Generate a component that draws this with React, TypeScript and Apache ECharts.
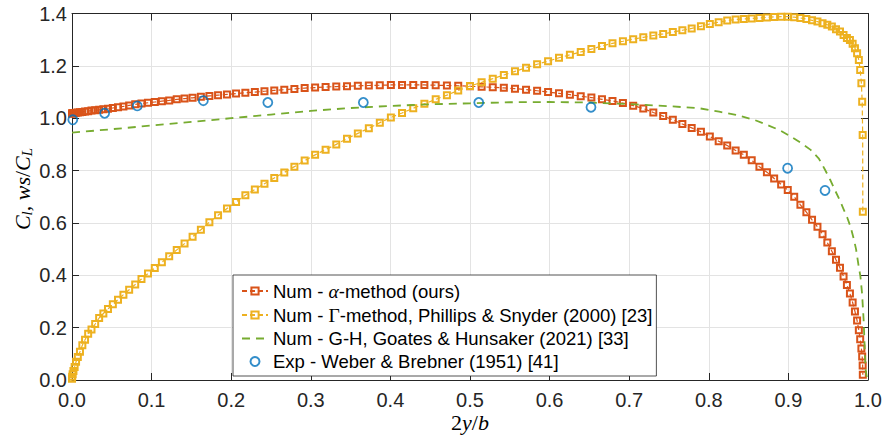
import React, { useEffect, useRef } from 'react';
import * as echarts from 'echarts';

// Spanwise stations (2y/b) shared by both numerical lifting-line results
const X_STATIONS = [
  0, 0.0002, 0.0008, 0.0018, 0.0033, 0.0051, 0.0073, 0.0100, 0.0130, 0.0164,
  0.0203, 0.0245, 0.0291, 0.0341, 0.0394, 0.0452, 0.0513, 0.0578, 0.0646, 0.0718,
  0.0794, 0.0873, 0.0955, 0.1040, 0.1129, 0.1221, 0.1316, 0.1414, 0.1515, 0.1619,
  0.1726, 0.1835, 0.1947, 0.2061, 0.2178, 0.2297, 0.2418, 0.2541, 0.2667, 0.2794,
  0.2923, 0.3054, 0.3186, 0.3320, 0.3455, 0.3591, 0.3729, 0.3867, 0.4006, 0.4146,
  0.4287, 0.4427, 0.4569, 0.4710, 0.4852, 0.5000,
  0.5146, 0.5286, 0.5425, 0.5565, 0.5704, 0.5843, 0.5981, 0.6118, 0.6255, 0.6391,
  0.6525, 0.6658, 0.6790, 0.6921, 0.7050, 0.7177, 0.7303, 0.7427, 0.7548, 0.7668,
  0.7785, 0.7901, 0.8013, 0.8124, 0.8231, 0.8337, 0.8440, 0.8539, 0.8636, 0.8730,
  0.8821, 0.8909, 0.8992, 0.9073, 0.9151, 0.9226, 0.9297, 0.9365, 0.9429, 0.9489,
  0.9546, 0.9598, 0.9648, 0.9693, 0.9735, 0.9773, 0.9807, 0.9836, 0.9863, 0.9885,
  0.9902, 0.9917, 0.9927, 0.9933, 0.9935,
];

// Num - alpha-method (ours)
const ALPHA_CL = [
  1.018, 1.018, 1.019, 1.019, 1.020, 1.021, 1.022, 1.023, 1.024, 1.026,
  1.027, 1.029, 1.030, 1.032, 1.034, 1.036, 1.039, 1.042, 1.045, 1.049,
  1.053, 1.056, 1.059, 1.062, 1.065, 1.068, 1.072, 1.075, 1.078, 1.082,
  1.085, 1.088, 1.091, 1.094, 1.097, 1.100, 1.103, 1.106, 1.109, 1.112,
  1.115, 1.117, 1.119, 1.121, 1.122, 1.124, 1.125, 1.126, 1.127, 1.127,
  1.127, 1.127, 1.126, 1.125, 1.124, 1.122,
  1.120, 1.118, 1.116, 1.113, 1.109, 1.105, 1.100, 1.095, 1.090, 1.084,
  1.079, 1.072, 1.066, 1.058, 1.048, 1.037, 1.022, 1.008, 0.994, 0.978,
  0.963, 0.948, 0.930, 0.912, 0.896, 0.877, 0.860, 0.839, 0.815, 0.794,
  0.770, 0.747, 0.726, 0.700, 0.669, 0.641, 0.612, 0.585, 0.557, 0.525,
  0.492, 0.459, 0.429, 0.395, 0.363, 0.330, 0.296, 0.262, 0.227, 0.190,
  0.156, 0.120, 0.090, 0.055, 0.020,
];

// Num - Gamma-method, Phillips & Snyder (2000)
const GAMMA_CL = [
  0.005, 0.012, 0.022, 0.034, 0.050, 0.070, 0.088, 0.108, 0.133, 0.154,
  0.177, 0.193, 0.214, 0.237, 0.254, 0.271, 0.289, 0.307, 0.326, 0.345,
  0.365, 0.386, 0.407, 0.428, 0.450, 0.473, 0.497, 0.521, 0.547, 0.574,
  0.603, 0.629, 0.655, 0.680, 0.706, 0.728, 0.750, 0.772, 0.793, 0.815,
  0.838, 0.860, 0.880, 0.900, 0.922, 0.942, 0.962, 0.983, 1.003, 1.020,
  1.038, 1.055, 1.072, 1.088, 1.106, 1.123,
  1.137, 1.151, 1.165, 1.179, 1.193, 1.206, 1.218, 1.231, 1.242, 1.253,
  1.264, 1.276, 1.286, 1.294, 1.302, 1.309, 1.316, 1.322, 1.329, 1.336,
  1.343, 1.351, 1.360, 1.367, 1.373, 1.377, 1.379, 1.381, 1.383, 1.385,
  1.387, 1.388, 1.388, 1.386, 1.383, 1.379, 1.374, 1.369, 1.363, 1.357,
  1.350, 1.340, 1.331, 1.318, 1.306, 1.299, 1.284, 1.267, 1.248, 1.222,
  1.184, 1.134, 1.063, 0.936, 0.643,
];

// Num - G-H, Goates & Hunsaker (2021)
const GH_X = [
  0, 0.05, 0.1, 0.15, 0.2, 0.25, 0.3, 0.35, 0.4, 0.45, 0.5, 0.55, 0.6, 0.65, 0.7,
  0.75, 0.788, 0.813, 0.834, 0.857, 0.876, 0.89, 0.903, 0.915, 0.928, 0.938, 0.946,
  0.953, 0.959, 0.964, 0.969, 0.974, 0.978, 0.982, 0.985, 0.988, 0.9905, 0.9925,
  0.9945, 0.9958, 0.997, 0.9985, 1.0,
];
const GH_CL = [
  0.945, 0.958, 0.972, 0.986, 1.0, 1.014, 1.028, 1.039, 1.047, 1.053, 1.057, 1.061,
  1.062, 1.06, 1.054, 1.046, 1.038, 1.025, 1.013, 0.994, 0.971, 0.953, 0.93, 0.907,
  0.879, 0.847, 0.803, 0.762, 0.722, 0.69, 0.655, 0.62, 0.586, 0.54, 0.5, 0.44,
  0.395, 0.332, 0.23, 0.128, 0.04, 0.01, 0.0,
];

// Exp - Weber & Brebner (1951)
const EXP_X = [0.001, 0.041, 0.082, 0.165, 0.246, 0.366, 0.511, 0.652, 0.899, 0.946];
const EXP_CL = [0.994, 1.019, 1.047, 1.067, 1.06, 1.06, 1.06, 1.042, 0.809, 0.724];

const SERIES_NAMES = [
  'Num - α-method (ours)',
  'Num - Γ-method, Phillips & Snyder (2000) [23]',
  'Num - G-H, Goates & Hunsaker (2021) [33]',
  'Exp - Weber & Brebner (1951) [41]',
];

const COLORS = ['#D95319', '#EDB120', '#77AC30', '#0072BD'];

const AXIS_COLOR = '#262626';
const SANS = '"Liberation Sans", Arial, Helvetica, sans-serif';
const SERIF = '"Liberation Serif", "Times New Roman", serif';

export default function App() {
  const ref = useRef<HTMLDivElement>(null);

  useEffect(() => {
    document.body.style.margin = '0';
    if (!ref.current) return;
    const chart = echarts.init(ref.current, undefined, { renderer: 'svg' });

    const tickFmt = (v: number) => v.toFixed(1);

    const mainAxisCommon = {
      type: 'value' as const,
      axisLine: { show: true, onZero: false, lineStyle: { color: AXIS_COLOR, width: 1 } },
      axisTick: { show: true, inside: true, length: 7, lineStyle: { color: AXIS_COLOR, width: 1 } },
      splitLine: { show: true, lineStyle: { color: '#e3e3e3', width: 1 } },
      axisLabel: { formatter: tickFmt, fontSize: 20, color: AXIS_COLOR, fontFamily: SANS },
    };
    const mirrorAxisCommon = {
      type: 'value' as const,
      axisLine: { show: true, onZero: false, lineStyle: { color: AXIS_COLOR, width: 1 } },
      axisTick: { show: true, inside: true, length: 7, lineStyle: { color: AXIS_COLOR, width: 1 } },
      splitLine: { show: false },
      axisLabel: { show: false },
    };

    const squareSeries = (idx: number, ys: number[]) => ({
      name: SERIES_NAMES[idx],
      type: 'line' as const,
      xAxisIndex: 0,
      yAxisIndex: 0,
      data: X_STATIONS.map((x, k) => [x, ys[k]]),
      symbol: 'rect',
      symbolSize: 6,
      showAllSymbol: true,
      lineStyle: { color: COLORS[idx], width: 1.2, type: [5, 3] },
      itemStyle: { color: 'rgba(255,255,255,0)', borderColor: COLORS[idx], borderWidth: 2 },
      emphasis: { disabled: true },
      z: 2 + idx,
    });

    chart.setOption({
      animation: false,
      backgroundColor: '#ffffff',
      grid: { left: 72, right: 17, top: 13.5, bottom: 59, containLabel: false },
      xAxis: [
        { ...mainAxisCommon, min: 0, max: 1, interval: 0.1, position: 'bottom',
          axisLabel: { ...mainAxisCommon.axisLabel, margin: 10 } },
        { ...mirrorAxisCommon, min: 0, max: 1, interval: 0.1, position: 'top' },
      ],
      yAxis: [
        { ...mainAxisCommon, min: 0, max: 1.4, interval: 0.2, position: 'left',
          axisLabel: { ...mainAxisCommon.axisLabel, margin: 5 } },
        { ...mirrorAxisCommon, min: 0, max: 1.4, interval: 0.2, position: 'right' },
      ],
      legend: {
        orient: 'vertical',
        left: 233,
        top: 275,
        data: [
          { name: SERIES_NAMES[0] },
          { name: SERIES_NAMES[1] },
          { name: SERIES_NAMES[2], itemStyle: { opacity: 0 } },
          { name: SERIES_NAMES[3] },
        ],
        itemWidth: 26,
        itemHeight: 9,
        itemGap: 4,
        padding: [6, 4, 5, 8],
        borderColor: AXIS_COLOR,
        borderWidth: 0.8,
        borderRadius: 0,
        backgroundColor: '#ffffff',
        selectedMode: false,
        textStyle: {
          fontFamily: SANS,
          fontSize: 18.5,
          color: '#000000',
          rich: {
            t: { fontFamily: SANS, fontSize: 18.5, color: '#000000' },
            a: { fontFamily: SERIF, fontStyle: 'italic', fontSize: 19.5, color: '#000000' },
            g: { fontFamily: SERIF, fontSize: 19.5, color: '#000000' },
          },
        },
        formatter: (name: string) => {
          if (name.indexOf('α') >= 0) {
            const [pre, post] = name.split('α');
            return `{t|${pre}}{a|α}{t|${post}}`;
          }
          if (name.indexOf('Γ') >= 0) {
            const [pre, post] = name.split('Γ');
            return `{t|${pre}}{g|Γ}{t|${post}}`;
          }
          return `{t|${name}}`;
        },
      },
      series: [
        squareSeries(0, ALPHA_CL),
        squareSeries(1, GAMMA_CL),
        {
          name: SERIES_NAMES[2],
          type: 'line',
          data: GH_X.map((x, k) => [x, GH_CL[k]]),
          showSymbol: false,
          symbol: 'none',
          lineStyle: { color: COLORS[2], width: 1.8, type: [8, 6] },
          itemStyle: { color: COLORS[2] },
          emphasis: { disabled: true },
          z: 5,
        },
        {
          name: SERIES_NAMES[3],
          type: 'scatter',
          data: EXP_X.map((x, k) => [x, EXP_CL[k]]),
          symbol: 'circle',
          symbolSize: 9,
          itemStyle: { color: 'rgba(255,255,255,0)', borderColor: COLORS[3], borderWidth: 1.8 },
          emphasis: { disabled: true },
          z: 6,
        },
      ],
      graphic: [
        {
          type: 'text',
          x: 470,
          y: 422,
          silent: true,
          style: {
            text: '{n|2}{i|y}{n|/}{i|b}',
            align: 'center',
            verticalAlign: 'middle',
            rich: {
              n: { fontFamily: SERIF, fontSize: 22, fill: '#000', lineHeight: 24 },
              i: { fontFamily: SERIF, fontStyle: 'italic', fontSize: 22, fill: '#000', lineHeight: 24 },
            },
          },
        },
        {
          type: 'text',
          x: 22,
          y: 189,
          rotation: Math.PI / 2,
          silent: true,
          style: {
            text: '{i|C}{s|l}{n|, }{i|ws}{n|/}{i|C}{s|L}',
            align: 'center',
            verticalAlign: 'middle',
            rich: {
              n: { fontFamily: SERIF, fontSize: 22, fill: '#000', lineHeight: 24 },
              i: { fontFamily: SERIF, fontStyle: 'italic', fontSize: 22, fill: '#000', lineHeight: 24 },
              s: { fontFamily: SERIF, fontStyle: 'italic', fontSize: 15, fill: '#000', lineHeight: 15, verticalAlign: 'bottom' },
            },
          },
        },
      ],
    });

    return () => chart.dispose();
  }, []);

  return <div ref={ref} style={{ width: 885, height: 439 }} />;
}
